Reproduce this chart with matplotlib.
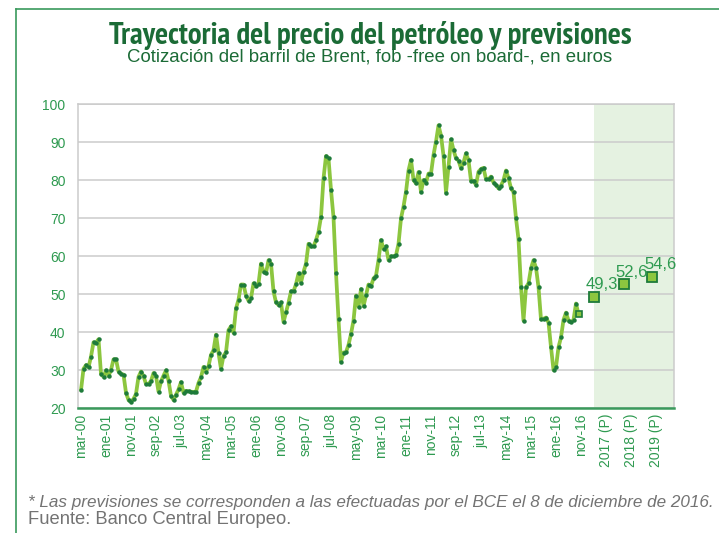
import matplotlib
matplotlib.use('Agg')
import matplotlib.pyplot as plt
from matplotlib import font_manager
from matplotlib.font_manager import FontProperties
from matplotlib.lines import Line2D

# ---------------- data ----------------
brent = [24.7, 30.3, 31.3, 30.7, 33.5, 37.3, 37.1, 38.1, 29.0, 28.2,
         29.9, 28.4, 30.0, 32.8, 32.8, 29.6, 29.0, 28.8, 24.0, 22.1,
         21.6, 22.4, 23.7, 28.2, 29.6, 28.4, 26.3, 26.3, 27.1, 29.2,
         28.4, 24.3, 27.0, 28.5, 29.9, 27.2, 23.2, 22.1, 23.5, 24.9,
         26.8, 24.0, 24.5, 24.4, 24.3, 24.2, 24.3, 26.6, 28.1, 30.8,
         29.6, 31.0, 34.0, 35.2, 39.3, 34.5, 30.3, 33.7, 34.7, 40.5,
         41.5, 39.8, 46.2, 48.5, 52.5, 52.5, 49.6, 48.2, 48.9, 52.8,
         52.0, 52.7, 58.0, 55.9, 55.5, 58.9, 58.0, 50.7, 47.8, 47.1,
         47.8, 42.6, 45.2, 47.7, 50.7, 50.7, 52.6, 55.4, 53.0, 55.8,
         58.0, 63.2, 62.5, 62.5, 64.2, 66.4, 70.3, 80.4, 86.3, 85.7,
         77.4, 70.2, 55.6, 43.3, 32.2, 34.6, 34.7, 36.6, 39.5, 43.0,
         49.6, 46.7, 51.3, 46.8, 49.7, 52.5, 52.0, 54.1, 54.8, 58.9,
         64.2, 61.9, 62.5, 58.9, 59.9, 59.9, 60.2, 63.2, 69.9, 73.0,
         76.9, 82.5, 85.3, 80.0, 79.1, 82.1, 76.8, 80.0, 79.3, 81.7,
         81.7, 86.6, 90.1, 94.4, 91.7, 86.4, 76.7, 83.5, 90.7, 87.9,
         85.7, 85.1, 83.1, 84.6, 87.0, 85.2, 79.8, 79.8, 78.7, 82.2,
         82.9, 83.2, 80.2, 80.2, 80.9, 79.3, 78.7, 77.8, 78.5, 80.0,
         82.5, 80.5, 77.8, 76.8, 69.9, 64.4, 51.8, 43.0, 51.8, 52.8,
         56.8, 58.9, 56.9, 51.8, 43.3, 43.5, 43.8, 42.5, 36.0, 30.0,
         30.8, 36.0, 38.6, 43.2, 45.1, 43.0, 42.6, 43.2, 47.5, 44.7]

month_labels = ['mar-00', 'ene-01', 'nov-01', 'sep-02', 'jul-03', 'may-04',
                'mar-05', 'ene-06', 'nov-06', 'sep-07', 'jul-08', 'may-09',
                'mar-10', 'ene-11', 'nov-11', 'sep-12', 'jul-13', 'may-14',
                'mar-15', 'ene-16', 'nov-16']
forecast_labels = ['2017 (P)', '2018 (P)', '2019 (P)']
forecast_values = [49.3, 52.6, 54.6]
forecast_texts = ['49,3', '52,6', '54,6']

# ---------------- layout / style ----------------
LABEL_STEP = 10
FORECAST_POS = [205, 217, 228.5]
FORECAST_TICKS = [210, 220, 230]
SHADE_START = 205.2
XLIM = (-1.2, 237.2)

LINE_C = '#8CC63F'
DOT_C = '#1E7B3A'
TICK_C = '#2E9A50'
TITLE_C = '#1B6B36'
GRID_C = '#CBCBCB'
SHADE_C = '#E5F2E1'
FOOT_C = '#737373'


def have(name):
    try:
        font_manager.findfont(FontProperties(family=name), fallback_to_default=False)
        return True
    except Exception:
        return False


SANS = 'Liberation Sans' if have('Liberation Sans') else 'DejaVu Sans'
plt.rcParams['font.family'] = [SANS, 'DejaVu Sans']

# look for a narrow / condensed bold face for the title
cands = []
for f in font_manager.fontManager.ttflist:
    fn = f.fname.lower()
    if ('condensed' in fn or 'narrow' in fn) and 'oblique' not in fn and 'italic' not in fn:
        w = f.weight
        bold = (isinstance(w, int) and w >= 600) or str(w) in ('bold', 'heavy', 'black', 'semibold', 'demibold')
        cands.append((0 if bold else 1, 0 if 'narrow' in fn else 1, f.fname))
if cands:
    cands.sort()
    title_font = FontProperties(fname=cands[0][2])
else:
    title_font = FontProperties(family=SANS, weight='bold')

W, H = 719, 533
fig = plt.figure(figsize=(W / 100, H / 100), dpi=100)
ax = fig.add_axes([78 / W, 1 - 408 / H, (674 - 78) / W, (408 - 104) / H])

x = list(range(len(brent)))
ax.axvspan(SHADE_START, XLIM[1], color=SHADE_C, zorder=0, lw=0)
ax.plot(x, brent, color=LINE_C, lw=2.7, zorder=3, solid_capstyle='round',
        solid_joinstyle='round')
ax.plot(x[:-1], brent[:-1], ls='none', marker='o', ms=2.2, color=DOT_C,
        mec=DOT_C, zorder=4)
ax.plot(x[-1:], brent[-1:], ls='none', marker='s', ms=5, mfc=LINE_C,
        mec=DOT_C, mew=1.2, zorder=5)

ax.plot(FORECAST_POS, forecast_values, ls='none', marker='s', ms=7.5,
        mfc=LINE_C, mec=DOT_C, mew=1.3, zorder=5)
for xp, v, t in zip(FORECAST_POS, forecast_values, forecast_texts):
    ax.annotate(t, (xp, v), xytext=(-6, 3), textcoords='offset points',
                ha='left', va='bottom', fontsize=12, color=TICK_C, zorder=6)

ax.set_xlim(*XLIM)
ax.set_ylim(20, 100)
ax.set_yticks(range(20, 101, 10))
ticks = [i * LABEL_STEP for i in range(len(month_labels))] + FORECAST_TICKS
ax.set_xticks(ticks)
ax.set_xticklabels(month_labels + forecast_labels, rotation=90)
ax.tick_params(axis='x', length=0, pad=4, labelsize=10, labelcolor=TICK_C)
ax.tick_params(axis='y', length=0, pad=9, labelsize=10, labelcolor=TICK_C)
ax.grid(axis='y', color=GRID_C, lw=1.1)
ax.set_axisbelow(True)
for s in ['left', 'top', 'right']:
    ax.spines[s].set_color(GRID_C)
    ax.spines[s].set_linewidth(1.1)
ax.spines['bottom'].set_color('#3A9A5C')
ax.spines['bottom'].set_linewidth(1.8)

# figure frame
fig.add_artist(Line2D([16 / W, 16 / W], [0, 1 - 9 / H], color='#3A9A5C', lw=1.2,
                      transform=fig.transFigure))
fig.add_artist(Line2D([16 / W, 1], [1 - 9 / H, 1 - 9 / H], color='#3A9A5C', lw=1.2,
                      transform=fig.transFigure))

title = fig.text(370 / W, 1 - 35 / H, 'Trayectoria del precio del petróleo y previsiones',
                 ha='center', va='center', fontproperties=title_font, color=TITLE_C)
title.set_fontsize(18)
sub = fig.text(370 / W, 1 - 57 / H, 'Cotización del barril de Brent, fob -free on board-, en euros',
               ha='center', va='center', fontsize=12.5, color=TITLE_C)
foot1 = fig.text(28 / W, 1 - 503 / H,
                 '* Las previsiones se corresponden a las efectuadas por el BCE el 8 de diciembre de 2016.',
                 ha='left', va='center', fontsize=11, style='italic', color=FOOT_C)
foot2 = fig.text(28 / W, 1 - 519 / H, 'Fuente: Banco Central Europeo.',
                 ha='left', va='center', fontsize=11, color=FOOT_C)

# fit text widths to the reference
fig.canvas.draw()
r = fig.canvas.get_renderer()
for t, target in [(title, 525), (sub, 487), (foot1, 688), (foot2, 262)]:
    w = t.get_window_extent(r).width
    t.set_fontsize(t.get_fontsize() * target / w)

fig.savefig('out.png', dpi=100)
